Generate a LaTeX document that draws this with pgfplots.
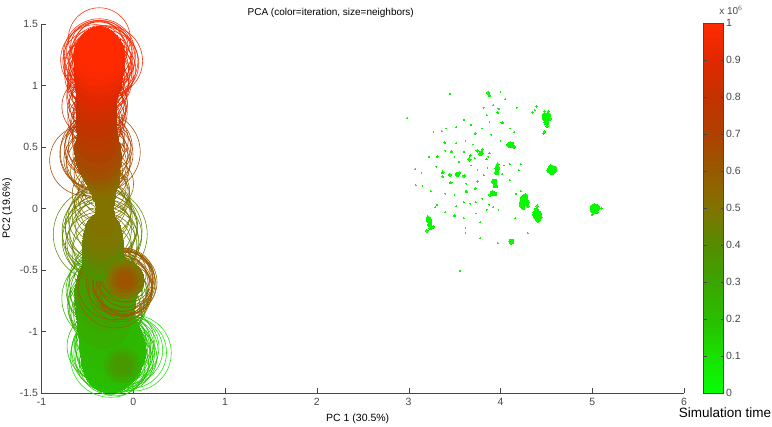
\documentclass[border=0pt]{standalone}
\usepackage{fontspec}
\setmainfont{Liberation Sans}
\usepackage{pgfplots}
\pgfplotsset{compat=1.18}
\definecolor{axgray}{RGB}{70,70,70}
\pgfplotsset{
 colormap={simtime}{rgb255(0)=(5,255,5) rgb255(1)=(25,225,0) rgb255(2)=(40,190,0) rgb255(3)=(60,165,0) rgb255(4)=(85,140,0) rgb255(5)=(130,115,0) rgb255(6)=(150,90,0) rgb255(7)=(175,65,0) rgb255(8)=(195,50,0) rgb255(9)=(225,40,0) rgb255(10)=(255,42,0)},
 blobs/.style={scatter,only marks,mark=*,scatter src=explicit,
   scatter/use mapped color={draw=mapped color,fill=mapped color,line width=0pt},
   visualization depends on={\thisrow{r} \as \rr},
   scatter/@pre marker code/.append style={/tikz/mark size=\rr}},
 rings/.style={scatter,only marks,mark=o,scatter src=explicit,
   scatter/use mapped color={draw=mapped color,fill=none,line width=0.55pt},
   visualization depends on={\thisrow{r} \as \rr},
   scatter/@pre marker code/.append style={/tikz/mark size=\rr}},
}
\begin{document}
\begin{tikzpicture}[x=1pt,y=1pt]
\useasboundingbox (0,0) rectangle (772,427);
\begin{axis}[
  at={(41.5pt,34pt)},anchor=south west,scale only axis,width=642.5pt,height=369pt,
  xmin=-1,xmax=6,ymin=-1.5,ymax=1.5,clip=false,
  axis x line*=bottom,axis y line*=left,
  x axis line style={-,axgray},y axis line style={-,axgray},
  tick align=inside,major tick length=5pt,tick style={axgray},
  xtick={-1,0,1,2,3,4,5,6},xticklabels={-1,0,1,2,3,4,5,6},
  ytick={-1.5,-1,-0.5,0,0.5,1,1.5},yticklabels={-1.5,-1,-0.5,0,0.5,1,1.5},
  tick label style={font=\fontsize{10.5}{12}\selectfont,text=axgray},
  xticklabel style={yshift=-2pt},yticklabel style={xshift=0pt},
  xlabel={PC 1 (30.5\%)},ylabel={PC2 (19.6\%)},
  label style={font=\fontsize{10.5}{12}\selectfont},
  xlabel style={xshift=-5pt,yshift=-1pt},ylabel style={yshift=1pt},
  title={PCA (color=iteration, size=neighbors)},
  title style={font=\fontsize{10}{12}\selectfont,xshift=-32pt,yshift=-3pt},
  point meta min=0,point meta max=1,colormap name=simtime,
  colorbar,colorbar/width=20pt,
  colorbar style={at={(parent axis.south east)},anchor=south west,xshift=11pt,
    scale only axis,height=370pt,
    ytick={0,0.1,0.2,0.3,0.4,0.5,0.6,0.7,0.8,0.9,1},
    yticklabels={0,0.1,0.2,0.3,0.4,0.5,0.6,0.7,0.8,0.9,1},
    ytick pos=both,yticklabel pos=right,tick align=inside,major tick length=3pt,
    tick style={axgray},axis line style={axgray},
    tick label style={font=\fontsize{10.5}{12}\selectfont,text=axgray},
    yticklabel style={xshift=-1pt}},
]
% green rings (bottom and left lobes)
\addplot[rings] table[x=x,y=y,meta=m]{
x y m r
-0.25 -1.21 0.05 40
0.00 -1.175 0.08 38
-0.03 -1.17 0.08 36
-0.05 -1.15 0.10 34
-0.08 -1.13 0.10 33
-0.10 -1.16 0.12 34
-0.13 -1.14 0.12 33
-0.15 -1.18 0.13 35
-0.18 -1.17 0.14 36
-0.20 -1.20 0.14 36
-0.22 -1.15 0.15 37
-0.24 -1.12 0.16 36
-0.26 -1.17 0.16 38
-0.28 -1.10 0.17 33
-0.30 -1.15 0.17 34
-0.32 -1.18 0.18 30
-0.29 -1.23 0.18 31
-0.25 -1.26 0.19 31
-0.20 -1.28 0.19 30
-0.15 -1.26 0.20 29
-0.10 -1.25 0.20 29
-0.07 -1.21 0.20 30
-0.22 -1.08 0.20 33
-0.27 -1.05 0.21 32
-0.17 -1.10 0.21 33
-0.12 -1.08 0.21 32
-0.34 -1.12 0.22 35
-0.31 -0.73 0.24 43
-0.34 -0.66 0.26 36
-0.32 -0.80 0.26 36
-0.30 -0.63 0.28 37
-0.36 -0.70 0.28 33
-0.30 -0.78 0.29 38
-0.33 -0.87 0.30 32
-0.35 -0.58 0.30 32
-0.27 -0.68 0.31 38
-0.32 -0.50 0.32 30
-0.28 -0.85 0.30 34
-0.25 -0.75 0.32 36
-0.36 -0.80 0.30 31
};
% green core
\addplot[blobs] table[x=x,y=y,meta=m]{
x y m r
-0.25 -1.28 0.19 27
-0.23 -1.22 0.20 31
-0.22 -1.15 0.21 33
-0.24 -1.08 0.22 32
-0.27 -1.00 0.23 30
-0.12 -1.27 0.26 18
-0.12 -1.27 0.29 15
-0.12 -1.27 0.32 12
-0.12 -1.27 0.35 9
-0.32 -0.92 0.26 27
-0.31 -0.84 0.27 29
-0.30 -0.76 0.29 30
-0.30 -0.68 0.31 31
-0.30 -0.60 0.33 29
-0.30 -0.52 0.35 25
};
% olive and brown rings
\addplot[rings] table[x=x,y=y,meta=m]{
x y m r
-0.34 -0.36 0.37 30
-0.36 -0.21 0.40 47
-0.36 -0.26 0.40 38
-0.34 -0.18 0.41 40
-0.38 -0.22 0.42 36
-0.33 -0.28 0.42 36
-0.35 -0.13 0.43 36
-0.30 -0.22 0.43 36
-0.38 -0.30 0.44 33
-0.33 -0.16 0.44 34
-0.36 -0.07 0.45 32
-0.31 -0.30 0.45 32
-0.38 -0.17 0.46 33
-0.29 -0.15 0.46 31
-0.35 -0.05 0.47 29
-0.33 -0.02 0.48 28
-0.30 0.00 0.49 26
-0.36 0.03 0.50 26
-0.32 0.10 0.52 26
-0.30 0.14 0.53 24
-0.34 0.17 0.54 24
-0.36 0.12 0.55 28
-0.28 0.20 0.56 26
-0.09 -0.60 0.55 32
-0.08 -0.62 0.56 30
-0.10 -0.60 0.58 31
-0.11 -0.59 0.60 30
-0.09 -0.56 0.57 29
-0.12 -0.63 0.60 30
-0.13 -0.61 0.62 28
-0.10 -0.65 0.62 28
-0.07 -0.58 0.58 28
-0.14 -0.66 0.55 32
-0.20 -0.67 0.56 37
-0.22 -0.62 0.60 35
-0.15 -0.60 0.60 33
-0.11 -0.54 0.60 27
-0.06 -0.56 0.62 25
-0.08 -0.66 0.58 26
-0.12 -0.52 0.63 24
-0.10 -0.70 0.55 25
-0.53 0.39 0.68 35
-0.36 0.46 0.66 40
-0.43 0.44 0.69 34
-0.42 0.50 0.70 30
-0.38 0.40 0.66 32
-0.36 0.50 0.72 32
-0.44 0.40 0.65 29
-0.33 0.44 0.68 30
-0.40 0.36 0.62 30
-0.34 0.36 0.63 28
-0.42 0.54 0.72 29
-0.46 0.48 0.70 27
-0.31 0.50 0.70 26
-0.40 0.30 0.58 26
-0.35 0.28 0.58 27
-0.38 0.60 0.74 26
-0.36 0.56 0.73 28
-0.44 0.83 0.82 31
-0.40 0.80 0.80 29
-0.38 0.85 0.84 29
-0.42 0.90 0.86 28
-0.36 0.78 0.80 27
-0.43 0.72 0.79 26
-0.37 0.72 0.78 26
-0.41 0.66 0.76 25
-0.37 0.92 0.86 27
-0.44 0.95 0.88 26
-0.40 0.70 0.77 26
-0.35 0.86 0.84 26
-0.37 1.38 1.00 31
-0.41 1.21 0.98 35
-0.28 1.20 0.97 35
-0.30 1.18 0.96 33
-0.32 1.20 0.97 34
-0.34 1.22 0.98 33
-0.43 1.20 0.99 31
-0.38 1.24 0.99 34
-0.36 1.18 0.95 32
-0.40 1.14 0.95 32
-0.35 1.12 0.94 31
-0.32 1.10 0.93 30
-0.42 1.08 0.93 30
-0.38 1.07 0.92 31
-0.34 1.28 0.99 30
-0.40 1.28 1.00 30
-0.37 1.25 0.98 36
-0.44 1.15 0.96 29
-0.30 1.13 0.94 30
-0.37 1.02 0.90 29
-0.41 1.00 0.90 28
-0.34 1.00 0.89 27
-0.39 1.31 1.00 27
-0.35 1.31 0.99 27
-0.36 1.05 0.91 32
};
% olive to red core
\addplot[blobs] table[x=x,y=y,meta=m]{
x y m r
-0.33 -0.42 0.38 21
-0.33 -0.36 0.41 21
-0.33 -0.30 0.44 21
-0.33 -0.24 0.47 20
-0.33 -0.18 0.49 18
-0.32 -0.12 0.50 13
-0.31 -0.06 0.50 10
-0.31 0.00 0.50 9
-0.31 0.06 0.50 10
-0.09 -0.58 0.48 19
-0.09 -0.58 0.52 16
-0.09 -0.58 0.56 13
-0.09 -0.58 0.60 10
-0.09 -0.58 0.63 7
-0.32 0.12 0.50 12
-0.33 0.18 0.51 14
-0.33 0.24 0.53 17
-0.35 0.30 0.56 19
-0.37 0.36 0.60 21
-0.38 0.42 0.64 23
-0.39 0.48 0.67 23
-0.39 0.54 0.70 21
-0.39 0.60 0.73 20
-0.40 0.66 0.75 20
-0.40 0.72 0.78 20
-0.40 0.78 0.80 20
-0.40 0.84 0.82 20
-0.40 0.90 0.85 20
-0.39 0.96 0.87 21
-0.38 1.02 0.89 23
-0.38 1.08 0.91 24
-0.37 1.14 0.94 25
-0.37 1.20 0.97 25
-0.37 1.26 0.99 25
-0.37 1.30 1.00 22
};
% right-hand clusters
\addplot[blobs] table[x=x,y=y,meta=m]{
x y m r
4.50 0.74 0.03 3.5
4.52 0.76 0.03 2.5
4.48 0.76 0.03 2
4.50 0.70 0.03 2.5
4.51 0.67 0.03 1.5
4.47 0.73 0.03 1.5
4.54 0.73 0.03 1.5
4.48 0.79 0.03 1
4.52 0.79 0.03 1
4.48 0.625 0.03 1.2
4.47 0.61 0.03 0.8
4.56 0.32 0.03 4
4.54 0.31 0.03 3
4.58 0.31 0.03 3
4.56 0.29 0.03 2
4.55 0.35 0.03 1
4.60 0.33 0.03 1
5.03 0.00 0.03 4
5.01 0.01 0.03 3
5.05 0.01 0.03 3
5.03 -0.02 0.03 3
5.00 -0.02 0.03 1.5
5.06 -0.03 0.03 1
5.10 0.00 0.03 0.8
5.02 0.03 0.03 1.5
5.00 -0.05 0.03 0.8
4.40 -0.06 0.03 4
4.38 -0.05 0.03 2.5
4.42 -0.04 0.03 2.5
4.41 -0.09 0.03 2.5
4.39 -0.01 0.03 2
4.40 0.02 0.03 1.2
4.44 -0.07 0.03 1.5
4.36 -0.03 0.03 1
4.26 0.07 0.03 3.5
4.24 0.03 0.03 3
4.28 0.05 0.03 3
4.27 0.10 0.03 2.5
4.24 0.09 0.03 2
4.25 0.00 0.03 1.5
4.30 0.02 0.03 1.5
4.22 0.05 0.03 1.5
3.22 -0.09 0.03 2.8
3.23 -0.13 0.03 2.2
3.24 -0.16 0.03 1.8
3.27 -0.15 0.03 1.5
3.20 -0.18 0.03 1.5
3.21 -0.07 0.03 1.5
4.12 -0.27 0.03 2.5
4.114 0.517 0.03 3
4.08 0.52 0.03 1.5
4.15 0.50 0.03 1.5
3.914 0.124 0.03 2.5
3.94 0.12 0.03 2
3.89 0.11 0.03 1.5
3.933 0.218 0.03 2.5
3.947 0.183 0.03 2
3.965 0.327 0.03 2.5
3.96 0.29 0.03 2
3.97 0.36 0.03 1.5
3.787 0.449 0.03 2.2
3.75 0.47 0.03 1.5
3.80 0.48 0.03 1
3.66 0.40 0.03 1.8
3.67 0.43 0.03 1
3.533 0.278 0.03 2.2
3.55 0.29 0.03 1.2
3.45 0.273 0.03 1.6
3.606 0.265 0.03 1.6
3.37 0.294 0.03 1.5
3.37 0.26 0.03 1
3.46 0.21 0.03 1.3
3.867 0.942 0.03 1.6
3.88 0.92 0.03 1.3
3.97 0.782 0.03 1.2
3.98 0.81 0.03 0.7
4.02 0.698 0.03 1.3
3.725 0.61 0.03 1
3.47 0.46 0.03 1
3.725 0.16 0.03 1
3.63 0.137 0.03 0.9
4.376 0.80 0.03 0.9
4.35 0.782 0.03 0.9
4.394 0.828 0.03 0.7
3.312 0.422 0.03 1
3.395 0.538 0.03 0.9
3.497 -0.06 0.03 1
3.559 -0.508 0.03 0.8
3.97 -0.283 0.03 0.5
2.985 0.733 0.03 0.4
3.45 0.931 0.03 0.4
3.27 0.62 0.03 0.4
3.36 0.63 0.03 0.4
3.41 0.65 0.03 0.4
3.52 0.66 0.03 0.4
3.60 0.72 0.03 0.4
3.68 0.68 0.03 0.4
3.80 0.65 0.03 0.4
3.88 0.70 0.03 0.4
3.92 0.84 0.03 0.4
4.05 0.89 0.03 0.4
4.18 0.82 0.03 0.4
4.10 0.65 0.03 0.4
4.00 0.55 0.03 0.4
3.90 0.60 0.03 0.4
3.70 0.52 0.03 0.4
3.62 0.55 0.03 0.4
3.52 0.53 0.03 0.4
3.40 0.47 0.03 0.4
3.22 0.42 0.03 0.4
3.30 0.34 0.03 0.4
3.07 0.32 0.03 0.4
3.14 0.29 0.03 0.4
3.08 0.19 0.03 0.4
3.15 0.18 0.03 0.4
3.24 0.14 0.03 0.4
3.31 0.03 0.03 0.4
3.29 0.01 0.03 0.5
3.40 0.12 0.03 0.4
3.50 0.11 0.03 0.4
3.52 0.02 0.03 0.4
3.60 0.05 0.03 0.5
3.67 0.04 0.03 0.5
3.73 0.05 0.03 0.6
3.80 0.08 0.03 0.4
3.88 0.03 0.03 0.5
3.92 0.01 0.03 0.5
3.98 -0.01 0.03 0.4
3.85 -0.01 0.03 0.4
3.73 -0.04 0.03 0.4
3.60 -0.08 0.03 0.4
3.78 -0.11 0.03 0.4
3.62 -0.16 0.03 0.4
3.40 -0.03 0.03 0.4
3.85 0.40 0.03 0.7
3.88 0.45 0.03 0.6
3.87 0.42 0.03 0.5
4.04 0.35 0.03 0.4
4.10 0.36 0.03 0.4
4.22 0.36 0.03 0.4
4.20 0.31 0.03 0.4
4.10 0.23 0.03 0.5
4.02 0.28 0.03 0.7
3.75 0.22 0.03 0.6
3.63 0.20 0.03 0.5
3.62 0.14 0.03 0.4
3.55 0.38 0.03 0.4
3.50 0.42 0.03 0.4
3.60 0.46 0.03 0.4
3.72 0.41 0.03 0.5
3.68 0.35 0.03 0.4
3.75 0.31 0.03 0.4
3.82 0.27 0.03 0.4
3.86 0.33 0.03 0.4
4.17 0.12 0.03 0.4
4.22 0.14 0.03 0.4
4.16 -0.08 0.03 0.4
4.30 -0.20 0.03 0.4
3.78 -0.24 0.03 0.4
3.62 -0.20 0.03 0.4
4.15 0.62 0.03 0.4
4.00 0.95 0.03 0.4
3.85 0.76 0.03 0.4
3.82 0.82 0.03 0.4
};
\end{axis}
\node[anchor=center,font=\fontsize{10}{11}\selectfont,text=axgray] at (731,417) {x 10$^{\scriptstyle 6}$};
\node[anchor=center,font=\fontsize{13.5}{15}\selectfont] at (725,14) {Simulation time};
\end{tikzpicture}
\end{document}
